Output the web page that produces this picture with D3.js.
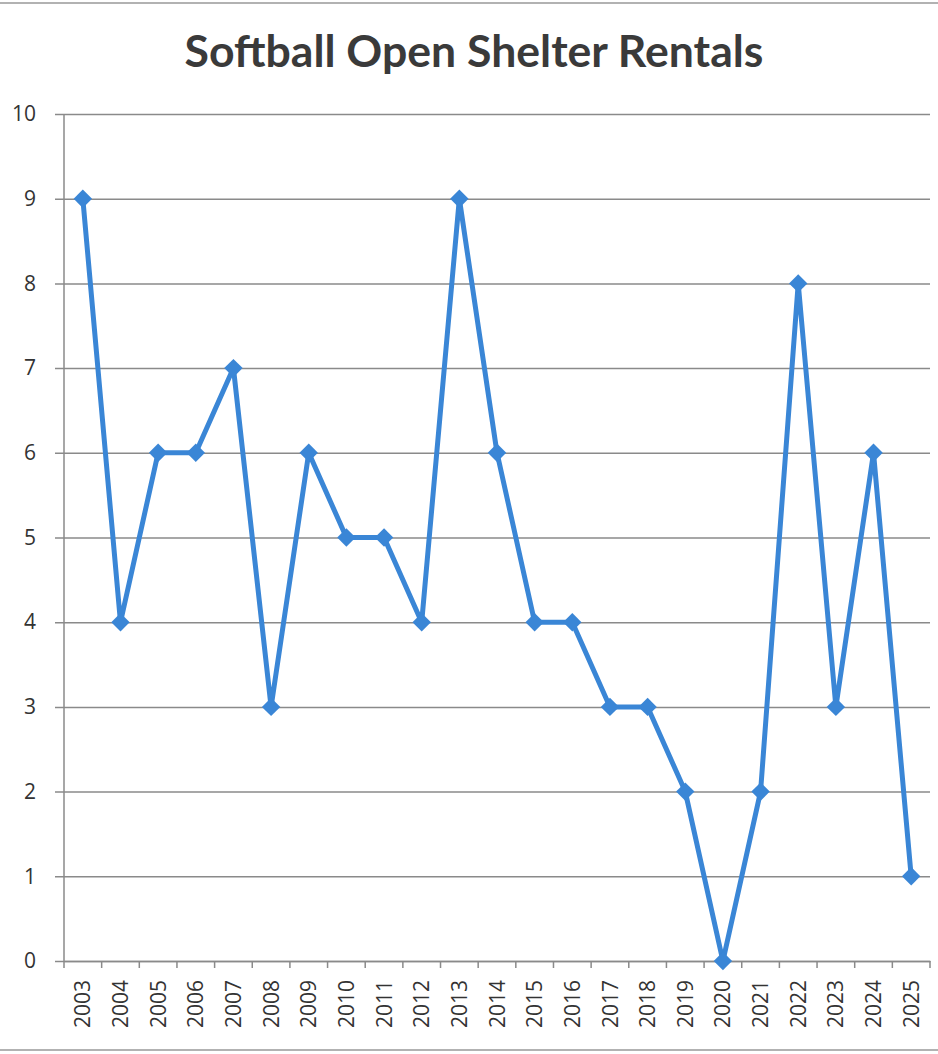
<!DOCTYPE html>
<html><head><meta charset="utf-8">
<script src="https://cdn.jsdelivr.net/npm/d3@7"></script>
<style>body{margin:0;background:#fff}</style>
</head><body>
<svg id="c" width="938" height="1054"></svg>
<script>
const years = ["2003","2004","2005","2006","2007","2008","2009","2010","2011","2012","2013","2014","2015","2016","2017","2018","2019","2020","2021","2022","2023","2024","2025"];
const rentals = [9,4,6,6,7,3,6,5,5,4,9,6,4,4,3,3,2,0,2,8,3,6,1];
const yTicks = [0,1,2,3,4,5,6,7,8,9,10];
const title = "Softball Open Shelter Rentals";

const svg = d3.select("#c");
const L = 64, R = 930, T = 114, B = 961;
const x = d3.scaleBand().domain(years).range([L, R]);
const y = d3.scaleLinear().domain([0, 10]).range([B, T]);
const grid = "#8a8a8a";
const font = "'Open Sans', 'Liberation Sans', sans-serif";

// frame lines
svg.append("line").attr("x1",0).attr("x2",938).attr("y1",3).attr("y2",3).attr("stroke","#999").attr("stroke-width",1.5);
svg.append("line").attr("x1",0).attr("x2",938).attr("y1",1050).attr("y2",1050).attr("stroke","#999").attr("stroke-width",1.5);

// title
const t = svg.append("text").attr("x", 474).attr("y", 67).attr("text-anchor","middle")
  .attr("font-family","Lato, 'Open Sans', sans-serif").attr("font-weight","bold")
  .attr("font-size", 40).attr("fill","#3a3a3a").text(title);
const w = t.node().getComputedTextLength();
t.attr("font-size", 40 * 579 / w);

// y axis with gridlines
const yAxis = d3.axisLeft(y).tickValues(yTicks).tickSize(-(R - L)).tickPadding(0).tickFormat(d3.format("d"));
const gy = svg.append("g").attr("transform", `translate(${L},0)`).call(yAxis);
gy.select(".domain").remove();
gy.selectAll(".tick line").attr("stroke", grid).attr("stroke-width",1.5).attr("x1", -9);
gy.selectAll(".tick text").attr("x", -28).attr("font-family", font).attr("font-size", 21).attr("fill","#333");
svg.append("line").attr("x1",L).attr("x2",L).attr("y1",T).attr("y2",B).attr("stroke",grid).attr("stroke-width",1.5);

// x axis
const gx = svg.append("g").attr("transform", `translate(0,${B})`)
  .call(d3.axisBottom(x).tickSize(0).tickPadding(0));
gx.select(".domain").attr("stroke", grid).attr("stroke-width",1.5);
gx.selectAll(".tick text").attr("transform","rotate(-90)").attr("text-anchor","end")
  .attr("x", -19).attr("y", 0).attr("dy","0.36em")
  .attr("font-family", font).attr("font-size", 21).attr("fill","#333");
const bounds = years.map(d => x(d)).concat([R]);
gx.selectAll(".bt").data(bounds).enter().append("line").attr("class","bt")
  .attr("x1", d => d).attr("x2", d => d).attr("y1",0).attr("y2",7)
  .attr("stroke", grid).attr("stroke-width",1.5);

// line
const blue = "#3a86d6";
const cx = d => x(d) + x.bandwidth()/2;
svg.append("path").datum(rentals.map((v,i)=>[years[i],v]))
  .attr("fill","none").attr("stroke",blue).attr("stroke-width",5).attr("stroke-linejoin","round")
  .attr("d", d3.line().x(d=>cx(d[0])).y(d=>y(d[1])));
svg.selectAll(".m").data(rentals).enter().append("path").attr("class","m")
  .attr("d", d3.symbol(d3.symbolSquare, 170))
  .attr("transform", (d,i)=>`translate(${cx(years[i])},${y(d)}) rotate(45)`)
  .attr("fill", blue);
</script>
</body></html>
